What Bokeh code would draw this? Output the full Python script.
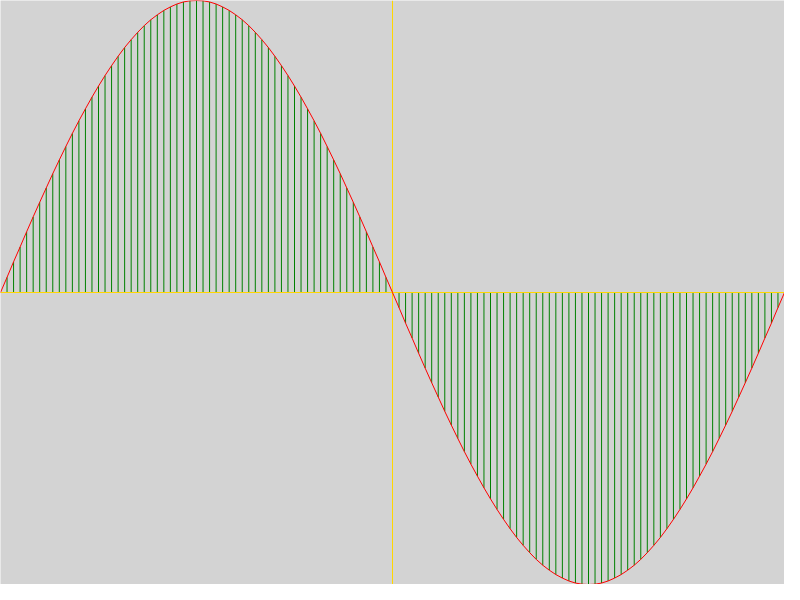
from bokeh.plotting import figure
from bokeh.models import ColumnDataSource
from bokeh.embed import file_html
from bokeh.resources import INLINE

# sample angles in degrees, one green stroke every 3 degrees
angles = list(range(0, 361, 3))

# curve height at each angle (-1 .. 1)
heights = [
    0.000, 0.052, 0.105, 0.156, 0.208, 0.259, 0.309, 0.358, 0.407, 0.454,
    0.500, 0.545, 0.588, 0.629, 0.669, 0.707, 0.743, 0.777, 0.809, 0.839,
    0.866, 0.891, 0.914, 0.934, 0.951, 0.966, 0.978, 0.988, 0.995, 0.999,
    1.000, 0.999, 0.995, 0.988, 0.978, 0.966, 0.951, 0.934, 0.914, 0.891,
    0.866, 0.839, 0.809, 0.777, 0.743, 0.707, 0.669, 0.629, 0.588, 0.545,
    0.500, 0.454, 0.407, 0.358, 0.309, 0.259, 0.208, 0.156, 0.105, 0.052,
    0.000, -0.052, -0.105, -0.156, -0.208, -0.259, -0.309, -0.358, -0.407, -0.454,
    -0.500, -0.545, -0.588, -0.629, -0.669, -0.707, -0.743, -0.777, -0.809, -0.839,
    -0.866, -0.891, -0.914, -0.934, -0.951, -0.966, -0.978, -0.988, -0.995, -0.999,
    -1.000, -0.999, -0.995, -0.988, -0.978, -0.966, -0.951, -0.934, -0.914, -0.891,
    -0.866, -0.839, -0.809, -0.777, -0.743, -0.707, -0.669, -0.629, -0.588, -0.545,
    -0.500, -0.454, -0.407, -0.358, -0.309, -0.259, -0.208, -0.156, -0.105, -0.052,
    0.000,
]

src = ColumnDataSource(data=dict(x=angles, y=heights, base=[0] * len(angles)))

p = figure(width=784, height=584, x_range=(0, 360), y_range=(-1, 1),
           output_backend="svg", toolbar_location=None, min_border=0,
           background_fill_color="#d3d3d3", border_fill_color="#d3d3d3",
           outline_line_color=None)
p.axis.visible = False
p.grid.visible = False

# green strokes from the zero line up/down to the curve
p.segment(x0="x", y0="base", x1="x", y1="y", source=src,
          line_color="#008000", line_width=1)

# yellow cross through the middle
p.segment(x0=[0, 180], y0=[0, -1], x1=[360, 180], y1=[0, 1],
          line_color="#ffd700", line_width=1)

# red curve on top
p.line(x="x", y="y", source=src, line_color="#ff0000", line_width=1)

open("out.html", "w").write(file_html(p, INLINE))
